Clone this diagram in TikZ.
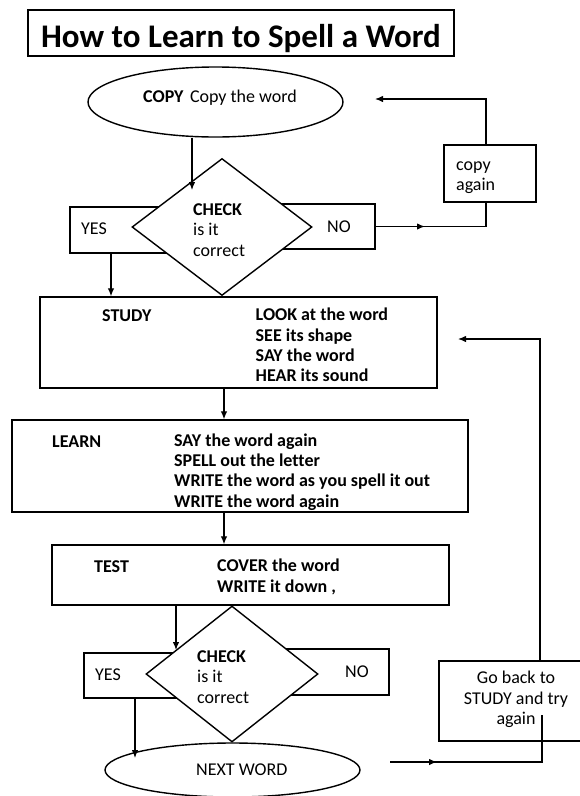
\documentclass[tikz,border=0pt]{standalone}
\usepackage{fontspec}
\setmainfont{Carlito}[Ligatures=NoCommon]
\usetikzlibrary{shapes.geometric,arrows.meta}
\begin{document}
\begin{tikzpicture}[x=1pt,y=-1pt,
  bx/.style={draw, rectangle, line width=1.4pt, inner sep=0pt},
  ell/.style={draw, ellipse, line width=1.4pt, inner sep=0pt},
  dia/.style={draw, diamond, fill=white, line width=1.4pt, inner sep=0pt},
  ln/.style={line width=1.2pt},
  arr/.style={ln, -{Latex[length=8pt,width=6.5pt]}},
  tx/.style={inner sep=0pt, anchor=base west, font=\fontsize{18}{21}\selectfont},
  txb/.style={inner sep=0pt, anchor=base west, font=\fontsize{18}{21}\selectfont\bfseries},
  ttl/.style={inner sep=0pt, anchor=base, font=\fontsize{33}{38}\selectfont\bfseries}]
\useasboundingbox[fill=white] (0,0) rectangle (580,796);

% title
\node[bx, line width=1.8pt, minimum width=426pt, minimum height=46pt] (title) at (241,33) {};
\node[ttl] (ttext) at (241,47) {How to Learn to Spell a Word};

% top part
\node[ell, minimum width=255pt, minimum height=70pt] (copy) at (215.5,102) {};
\node[tx] (copyt) at (143,102) {\textbf{COPY}\hspace{0.35em}Copy the word};

\node[bx, minimum width=152pt, minimum height=46pt] (yes1) at (146,230) {};
\node[bx, minimum width=153pt, minimum height=45pt] (no1) at (298.5,226.5) {};
\node[dia, minimum width=180pt, minimum height=137pt] (d1) at (222,227) {};
\node[tx] (yes1t) at (81,234) {YES};
\node[tx] (no1t) at (327,232) {NO};
\node[txb] (c1a) at (193,215) {CHECK};
\node[tx] (c1b) at (193,235) {is it};
\node[tx] (c1c) at (193,256) {correct};

\node[bx, minimum width=92pt, minimum height=57pt] (cagain) at (490,173.5) {};
\node[tx] (cag1) at (456,170) {copy};
\node[tx] (cag2) at (456,190) {again};

% study
\node[bx, minimum width=397pt, minimum height=91pt] (study) at (238.5,342.5) {};
\node[txb] (st0) at (102,321) {STUDY};
\node[txb] (st1) at (255.5,320) {LOOK at the word};
\node[txb] (st2) at (255.5,341) {SEE its shape};
\node[txb] (st3) at (255.5,361) {SAY the word};
\node[txb] (st4) at (255.5,381) {HEAR its sound};

% learn
\node[bx, minimum width=456pt, minimum height=92pt] (learn) at (240,466) {};
\node[txb] (le0) at (52,447) {LEARN};
\node[txb] (le1) at (174,446) {SAY the word again};
\node[txb] (le2) at (174,466) {SPELL out the letter};
\node[txb] (le3) at (174,486) {WRITE the word as you spell it out};
\node[txb] (le4) at (174,507) {WRITE the word again};

% test
\node[bx, minimum width=397pt, minimum height=60pt] (test) at (250.5,575) {};
\node[txb] (te0) at (94,572) {TEST};
\node[txb] (te1) at (217,571) {COVER the word};
\node[txb] (te2) at (217,592) {WRITE it down ,};

% second check
\node[bx, minimum width=148pt, minimum height=45pt] (yes2) at (158,675.5) {};
\node[bx, minimum width=157pt, minimum height=46pt] (no2) at (310.5,672) {};
\node[dia, minimum width=172pt, minimum height=136pt] (d2) at (232,674) {};
\node[tx] (yes2t) at (95,680) {YES};
\node[tx] (no2t) at (345,677) {NO};
\node[txb] (c2a) at (197,662) {CHECK};
\node[tx] (c2b) at (197,682) {is it};
\node[tx] (c2c) at (197,703) {correct};

% next word
\node[ell, minimum width=255pt, minimum height=54pt] (next) at (232.5,770) {};
\node[tx] (nextt) at (196,775) {NEXT WORD};

% go back
\node[bx, minimum width=161pt, minimum height=80pt] (goback) at (519.5,701) {};
\node[tx, anchor=base] (gb1) at (516,683) {Go back to};
\node[tx, anchor=base] (gb2) at (516,704) {STUDY and try};
\node[tx, anchor=base] (gb3) at (516,724) {again};

% connector points
\coordinate (p1) at (192,190);
\coordinate (p2) at (486,99);
\coordinate (p3) at (375,99);
\coordinate (p4) at (425,226.5);
\coordinate (p5) at (111,0);
\coordinate (p6) at (224,0);
\coordinate (p7) at (176,650);
\coordinate (p8) at (135,758);
\coordinate (p9) at (540,339);
\coordinate (p10) at (458,339);
\coordinate (q1) at (390,762);
\coordinate (q2) at (542,762);
\coordinate (q3) at (542,715);
\coordinate (q4) at (437,762);

% connectors
\draw[arr] (p1 |- copy.south) -- (p1);
\draw[ln] (no1.east) -- (p2 |- no1.east) -- (p2 |- cagain.south);
\draw[arr] (no1.east) -- (p4);
\draw[arr] (p2 |- cagain.north) -- (p2) -- (p3);
\draw[arr] (p5 |- yes1.south) -- (p5 |- study.north);
\draw[arr] (p6 |- study.south) -- (p6 |- learn.north);
\draw[arr] (p6 |- learn.south) -- (p6 |- test.north);
\draw[arr] (p7 |- test.south) -- (p7);
\draw[arr] (p8 |- yes2.south) -- (p8);
\draw[arr] (p9 |- goback.north) -- (p9) -- (p10);
\draw[ln] (q1) -- (q2) -- (q3);
\draw[arr] (q1) -- (q4);
\end{tikzpicture}
\end{document}
